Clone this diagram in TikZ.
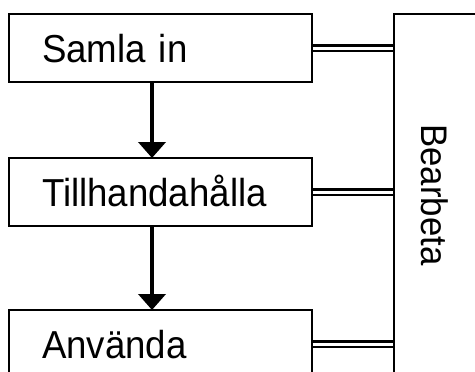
\documentclass[tikz,border=0pt]{standalone}
\usepackage{fontspec}
\setmainfont{Liberation Sans}[FakeStretch=0.94]
\usetikzlibrary{arrows.meta}
\begin{document}
\begin{tikzpicture}[x=1pt,y=-1pt,
  stepbox/.style={draw,line width=2pt,rectangle,minimum width=303pt,minimum height=68pt,
    text width=237pt,align=left,inner xsep=33pt,inner ysep=0pt,
    font=\fontsize{39}{44}\selectfont,text height=28pt,text depth=0pt,anchor=north west},
  flow/.style={line width=4pt,-{Triangle[length=16pt,width=27pt]},shorten >=-1pt},
  dbl/.style={double,line width=2.2pt,double distance=3pt}]
\useasboundingbox (0,0) rectangle (475,372);
\clip (0,0) rectangle (475,372);
\node[stepbox] (b1) at (8,13) {Samla in};
\node[stepbox] (b2) at (8,157) {Tillhandahålla};
\node[stepbox] (b3) at (8,309) {Använda};
\node[draw,line width=2pt,rectangle,minimum width=140pt,minimum height=420pt,anchor=north west,inner sep=0pt] (proc) at (393,13) {};
\node[rotate=-90,font=\fontsize{37}{42}\selectfont,inner sep=0pt] (lbl) at (435,195) {Bearbeta};
\draw[flow] (b1.south -| 152,0) -- (b2.north -| 152,0);
\draw[flow] (b2.south -| 152,0) -- (b3.north -| 152,0);
\draw[dbl] (b1.east) -- (b1.east -| proc.west);
\draw[dbl] (b2.east) -- (b2.east -| proc.west);
\draw[dbl] (b3.east) -- (b3.east -| proc.west);
\end{tikzpicture}
\end{document}
